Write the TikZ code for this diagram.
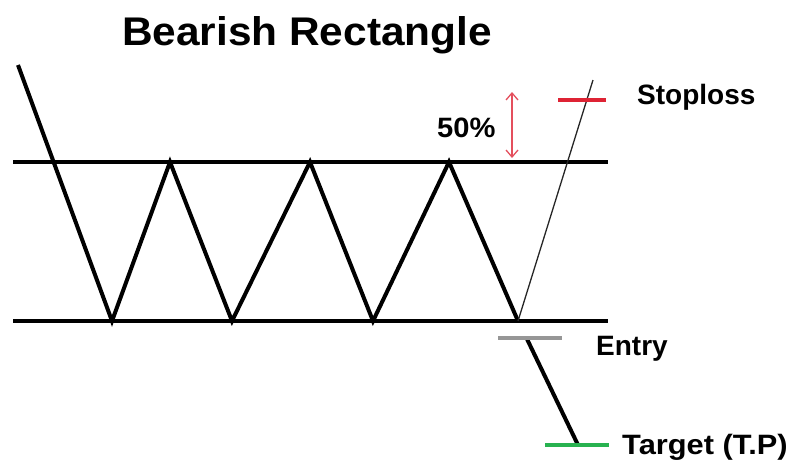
\documentclass[tikz,border=0pt]{standalone}
\usepackage{fontspec}
\setmainfont{Liberation Sans}
\usetikzlibrary{arrows.meta}
\definecolor{slred}{RGB}{222,35,52}
\definecolor{entgray}{RGB}{150,150,150}
\definecolor{tpgreen}{RGB}{40,178,80}
\begin{document}
\begin{tikzpicture}[x=1pt,y=-1pt,
  level line/.style={line width=4pt},
  label text/.style={font=\bfseries\fontsize{28}{30}\selectfont,anchor=west,inner sep=0pt}]
\useasboundingbox (0,0) rectangle (794,467);
% support / resistance
\coordinate (tl) at (13,162); \coordinate (tr) at (608,162);
\coordinate (bl) at (13,321); \coordinate (br) at (608,321);
\draw[line width=4pt] (tl) -- (tr);
\draw[line width=4pt] (bl) -- (br);
% zigzag
\coordinate (p0) at (18,65);
\coordinate (p1) at (112,321);
\coordinate (p2) at (170,162);
\coordinate (p3) at (232,321);
\coordinate (p4) at (310,162);
\coordinate (p5) at (373,321);
\coordinate (p6) at (449,162);
\coordinate (p7) at (518,321);
\draw[line width=4pt,line join=miter] (p0) -- (p1) -- (p2) -- (p3) -- (p4) -- (p5) -- (p6) -- (p7);
% thin line up
\coordinate (up) at (593,80);
\draw[line width=1.3pt,black!85] (p7) -- (up);
% breakdown
\coordinate (e0) at (527,339);
\coordinate (tp) at (578,445);
\draw[line width=4pt] (e0) -- (tp);
% levels
\coordinate (sl1) at (558,100); \coordinate (sl2) at (606,100);
\draw[level line,slred] (sl1) -- (sl2);
\coordinate (en1) at (498,338); \coordinate (en2) at (562,338);
\draw[level line,entgray] (en1) -- (en2);
\coordinate (g1) at (545,445); \coordinate (g2) at (609,445);
\draw[level line,tpgreen] (g1) -- (g2);
% 50% arrow
\coordinate (a1) at (512,92); \coordinate (a2) at (512,158);
\draw[slred!80,line width=1.3pt,{Straight Barb[length=7pt,width=12pt]}-{Straight Barb[length=7pt,width=12pt]}] (a1) -- (a2);
% texts
\node[font=\bfseries\fontsize{40}{44}\selectfont] (title) at (307,35) {\scalebox{1.06}[1]{Bearish Rectangle}};
\node[label text] (pct) at (437,128) {\scalebox{1.04}[1]{50\%}};
\node[label text] (stop) at (637,97) {Stoploss};
\node[label text] (entry) at (596,349) {Entry};
\node[label text] (target) at (622,447) {\scalebox{1.1}[1]{Target (T.P)}};
\end{tikzpicture}
\end{document}
